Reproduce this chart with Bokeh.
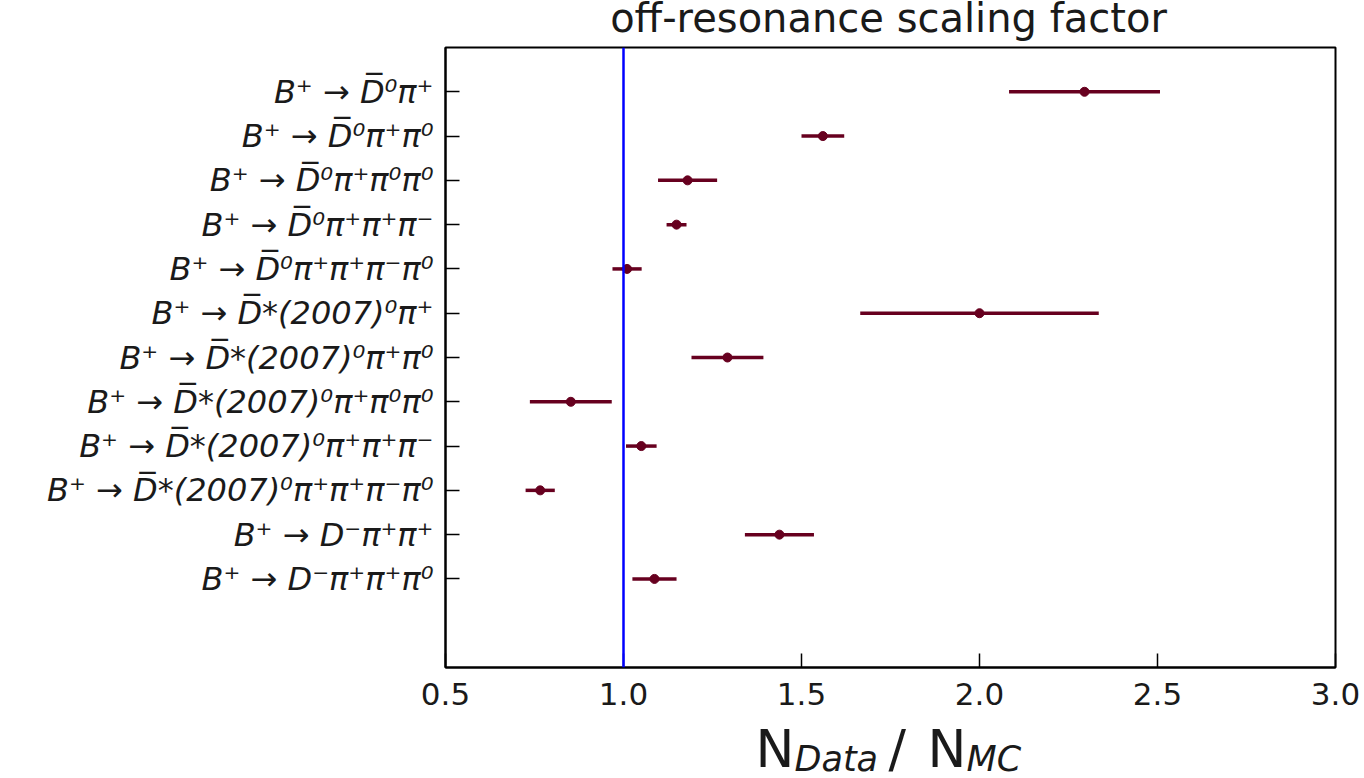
from bokeh.plotting import figure
from bokeh.models import Range1d, FixedTicker, Span
from bokeh.layouts import column
from bokeh.core.properties import value
from bokeh.embed import file_html
from bokeh.resources import INLINE

# ---- data ----
decay_labels = [
    "B⁺ → D̅⁰π⁺",
    "B⁺ → D̅⁰π⁺π⁰",
    "B⁺ → D̅⁰π⁺π⁰π⁰",
    "B⁺ → D̅⁰π⁺π⁺π⁻",
    "B⁺ → D̅⁰π⁺π⁺π⁻π⁰",
    "B⁺ → D̅*(2007)⁰π⁺",
    "B⁺ → D̅*(2007)⁰π⁺π⁰",
    "B⁺ → D̅*(2007)⁰π⁺π⁰π⁰",
    "B⁺ → D̅*(2007)⁰π⁺π⁺π⁻",
    "B⁺ → D̅*(2007)⁰π⁺π⁺π⁻π⁰",
    "B⁺ → D⁻π⁺π⁺",
    "B⁺ → D⁻π⁺π⁺π⁰",
]
scale_factor = [2.295, 1.560, 1.180, 1.149, 1.010, 2.000, 1.292, 0.852, 1.050, 0.766, 1.438, 1.087]
scale_error = [0.212, 0.060, 0.083, 0.028, 0.041, 0.335, 0.101, 0.115, 0.043, 0.041, 0.097, 0.062]
x_ticks = [0.5, 1.0, 1.5, 2.0, 2.5, 3.0]
x_tick_labels = ["0.5", "1.0", "1.5", "2.0", "2.5", "3.0"]
reference_value = 1.0
title_text = "off-resonance scaling factor"
xlabel_main = ["N", "/", "N"]
xlabel_sub = ["Data", "MC"]

rows = list(range(len(decay_labels)))
lo = [v - e for v, e in zip(scale_factor, scale_error)]
hi = [v + e for v, e in zip(scale_factor, scale_error)]

FONT = "DejaVu Sans"
DARK = "#1a1a1a"
BAR = "#67001f"
W = 1364
LEFT, RIGHT = 445, 29
TOP_H, MAIN_H, BOT_H = 45, 677, 56


def text_strip(h):
    # pixel-coordinate strip whose frame lines up with the main plot frame
    f = figure(width=W, height=h, output_backend="svg", toolbar_location=None, title=None,
               x_range=Range1d(LEFT, W - RIGHT), y_range=Range1d(h, 0),
               x_axis_location=None, y_axis_location=None,
               min_border_left=LEFT, min_border_right=RIGHT, min_border_top=0, min_border_bottom=0)
    f.outline_line_color = None
    f.grid.visible = False
    f.background_fill_color = "white"
    f.border_fill_color = "white"
    return f


# ---- title strip ----
pt = text_strip(TOP_H)
pt.text(x=[888], y=[17], text=[title_text], text_align="center", text_baseline="middle",
        text_font=value(FONT), text_font_size="40px", text_color=DARK)

# ---- main plot ----
p = figure(width=W, height=MAIN_H, output_backend="svg", toolbar_location=None,
           x_range=Range1d(0.5, 3.0), y_range=Range1d(13, -1), title=None,
           min_border_left=LEFT, min_border_right=RIGHT, min_border_top=2, min_border_bottom=55)
p.background_fill_color = "white"
p.border_fill_color = "white"
p.outline_line_color = "black"
p.outline_line_width = 2
p.outline_line_alpha = 1.0
p.xgrid.visible = False
p.ygrid.visible = False

p.xaxis.ticker = FixedTicker(ticks=x_ticks)
p.xaxis.major_label_overrides = {t: s for t, s in zip(x_ticks, x_tick_labels)}
p.xaxis.major_label_text_font = FONT
p.xaxis.major_label_text_font_size = "31px"
p.xaxis.major_label_text_color = DARK
p.xaxis.major_label_standoff = 15

p.yaxis.ticker = FixedTicker(ticks=rows)
p.yaxis.major_label_overrides = {i: s for i, s in zip(rows, decay_labels)}
p.yaxis.major_label_text_font = FONT
p.yaxis.major_label_text_font_size = "32px"
p.yaxis.major_label_text_font_style = "italic"
p.yaxis.major_label_text_color = DARK
p.yaxis.major_label_standoff = 12

for ax in (p.xaxis, p.yaxis):
    ax.axis_line_color = "black"
    ax.axis_line_width = 2
    ax.major_tick_in = 14
    ax.major_tick_out = 0
    ax.major_tick_line_color = "black"
    ax.major_tick_line_width = 1.5
    ax.minor_tick_in = 0
    ax.minor_tick_out = 0
    ax.minor_tick_line_color = None

p.add_layout(Span(location=reference_value, dimension="height", line_color="#0000ff", line_width=2.5))
p.segment(x0=lo, x1=hi, y0=rows, y1=rows, line_color=BAR, line_width=3.5)
p.scatter(x=scale_factor, y=rows, size=9, fill_color=BAR, line_color=BAR)

# ---- x-axis label strip: N_Data / N_MC ----
pb = text_strip(BOT_H)
pb.text(x=[755, 888, 927], y=[26, 26, 26], text=xlabel_main, text_align="left", text_baseline="middle",
        text_font=value(FONT), text_font_size="52px", text_color=DARK)
pb.text(x=[794, 966], y=[36, 36], text=xlabel_sub, text_align="left", text_baseline="middle",
        text_font=value(FONT), text_font_size="35px", text_font_style="italic", text_color=DARK)

layout = column(pt, p, pb, spacing=0)
open("out.html", "w").write(file_html(layout, INLINE))
